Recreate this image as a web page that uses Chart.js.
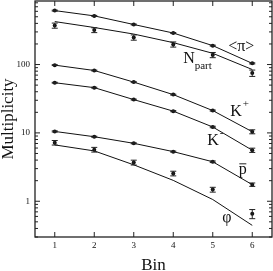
<!DOCTYPE html>
<html>
<head>
<meta charset="utf-8">
<script src="https://cdn.jsdelivr.net/npm/chart.js@4/dist/chart.umd.min.js"></script>
<style>
  html, body { margin: 0; padding: 0; background: #fff; }
  #wrap { width: 273px; height: 271px; }
</style>
</head>
<body>
<div id="wrap"><canvas id="c"></canvas></div>
<script>
// bins
const bins = [1, 2, 3, 4, 5, 6];

// measured multiplicities (points) and their errors
const pion = [615, 515, 385, 289, 189, 104];
const pionErr = [10, 8, 6, 5, 3, 2];
const npart = [372, 319, 249, 197, 138, 75];
const npartErr = [32, 26, 22, 17, 12, 8];
const kplus = [98, 81.8, 55.3, 36.3, 21.2, 10.4];
const kplusErr = [1.5, 1.2, 0.9, 0.6, 0.4, 0.7];
const kminus = [54.2, 45.9, 30.7, 20.8, 12.2, 5.58];
const kminusErr = [0.8, 0.7, 0.5, 0.4, 0.3, 0.4];
const pbar = [10.5, 8.79, 7.04, 5.32, 3.78, 1.75];
const pbarErr = [0.2, 0.15, 0.12, 0.1, 0.1, 0.1];
const phi = [7.19, 5.69, 3.69, 2.55, 1.48, 0.656];
const phiErr = [0.55, 0.45, 0.3, 0.2, 0.12, 0.1];

// curves that do not go through the points
const npartLine = [425, 348, 279, 209, 146, 84.6];
const phiLine = [6.67, 5.45, 3.41, 2.02, 1.06, 0.444];

// y axis labels shown
const yLabels = [1, 10, 100];

// species labels: text, sub/superscript, x (bin), y (multiplicity) of baseline start
const labels = [
  ["<\u03c0>", "", 5.39, 160],
  ["N", "part", 4.25, 107],
  ["K", "+", 5.44, 17.6],
  ["K", "-", 4.86, 6.66],
  ["p", "bar", 5.66, 2.52],
  ["\u03c6", "", 5.24, 0.49]
];

const serif = "'Liberation Serif', 'DejaVu Serif', serif";
const ink = "#111";

function pts(vals) {
  return bins.map((b, i) => ({ x: b, y: vals[i] }));
}

function measured(vals, err, withLine) {
  return {
    data: pts(vals),
    errors: err,
    showLine: withLine,
    borderColor: ink,
    borderWidth: 1,
    backgroundColor: ink,
    pointRadius: 2,
    pointBorderWidth: 0,
    tension: 0
  };
}

function curve(vals) {
  return {
    data: pts(vals),
    showLine: true,
    borderColor: ink,
    borderWidth: 1,
    pointRadius: 0,
    tension: 0
  };
}

const framePlugin = {
  id: "frame",
  afterDatasetsDraw(chart) {
    const { ctx, chartArea: a, scales: { x, y } } = chart;
    ctx.save();
    ctx.strokeStyle = "#222";

    // error bars
    ctx.lineWidth = 1;
    chart.data.datasets.forEach(ds => {
      if (!ds.errors) return;
      ds.data.forEach((p, i) => {
        const e = ds.errors[i];
        const px = x.getPixelForValue(p.x);
        const y1 = y.getPixelForValue(p.y + e);
        const y2 = y.getPixelForValue(p.y - e);
        ctx.beginPath();
        ctx.moveTo(px, y1); ctx.lineTo(px, y2);
        ctx.moveTo(px - 3, y1); ctx.lineTo(px + 3, y1);
        ctx.moveTo(px - 3, y2); ctx.lineTo(px + 3, y2);
        ctx.stroke();
      });
    });

    // frame
    ctx.lineWidth = 1.3;
    ctx.strokeRect(a.left, a.top, a.right - a.left, a.bottom - a.top);

    // inward ticks
    ctx.lineWidth = 1;
    ctx.beginPath();
    bins.forEach(b => {
      const px = x.getPixelForValue(b);
      ctx.moveTo(px, a.bottom); ctx.lineTo(px, a.bottom - 5);
      ctx.moveTo(px, a.top); ctx.lineTo(px, a.top + 5);
    });
    for (let d = -1; d <= 2; d++) {
      for (let m = 1; m <= 9; m++) {
        const v = m * Math.pow(10, d);
        if (v < y.min || v > y.max) continue;
        const py = y.getPixelForValue(v);
        const len = m === 1 ? 5 : 3;
        ctx.moveTo(a.left, py); ctx.lineTo(a.left + len, py);
        ctx.moveTo(a.right, py); ctx.lineTo(a.right - len, py);
      }
    }
    ctx.stroke();

    // species labels
    ctx.fillStyle = ink;
    ctx.textBaseline = "alphabetic";
    ctx.textAlign = "left";
    labels.forEach(([t, s, lx, ly]) => {
      const px = x.getPixelForValue(lx);
      const py = y.getPixelForValue(ly);
      ctx.font = "16px " + serif;
      ctx.fillText(t, px, py);
      const w = ctx.measureText(t).width;
      if (s === "bar") {
        ctx.beginPath();
        ctx.moveTo(px + 0.5, py - 10); ctx.lineTo(px + w - 0.5, py - 10);
        ctx.stroke();
      } else if (s === "part") {
        ctx.font = "11px " + serif;
        ctx.fillText(s, px + w, py + 6);
      } else if (s) {
        ctx.font = "11px " + serif;
        ctx.fillText(s, px + w + 1, py - 9);
      }
    });
    ctx.restore();
  }
};

new Chart(document.getElementById("c"), {
  type: "line",
  data: {
    datasets: [
      measured(pion, pionErr, true),
      measured(npart, npartErr, false),
      curve(npartLine),
      measured(kplus, kplusErr, true),
      measured(kminus, kminusErr, true),
      measured(pbar, pbarErr, true),
      measured(phi, phiErr, false),
      curve(phiLine)
    ]
  },
  options: {
    responsive: true,
    maintainAspectRatio: false,
    animation: false,
    layout: { autoPadding: false, padding: { top: 1, right: 1, left: 0, bottom: 0 } },
    plugins: { legend: { display: false }, tooltip: { enabled: false } },
    scales: {
      x: {
        type: "linear",
        min: 0.5,
        max: 6.5,
        afterFit: s => { s.height = 34; s.paddingLeft = 0; s.paddingRight = 0; },
        afterBuildTicks: s => { s.ticks = bins.map(v => ({ value: v })); },
        grid: { display: false, drawTicks: false },
        border: { display: false },
        ticks: { color: ink, padding: 3, font: { family: serif, size: 9 } },
        title: {
          display: true, text: "Bin", color: ink,
          font: { family: serif, size: 17, lineHeight: 1 },
          padding: { top: -3, bottom: -3 }
        }
      },
      y: {
        type: "logarithmic",
        min: 0.3,
        max: 850,
        afterFit: s => { s.width = 35; s.paddingTop = 0; s.paddingBottom = 0; },
        afterBuildTicks: s => { s.ticks = yLabels.map(v => ({ value: v })); },
        grid: { display: false, drawTicks: false },
        border: { display: false },
        ticks: { color: ink, padding: 5, font: { family: serif, size: 9 }, callback: v => String(v) },
        title: {
          display: true, text: "Multiplicity", color: ink,
          font: { family: serif, size: 17, lineHeight: 1 },
          padding: { top: 0, bottom: 0 }
        }
      }
    }
  },
  plugins: [framePlugin]
});
</script>
</body>
</html>
